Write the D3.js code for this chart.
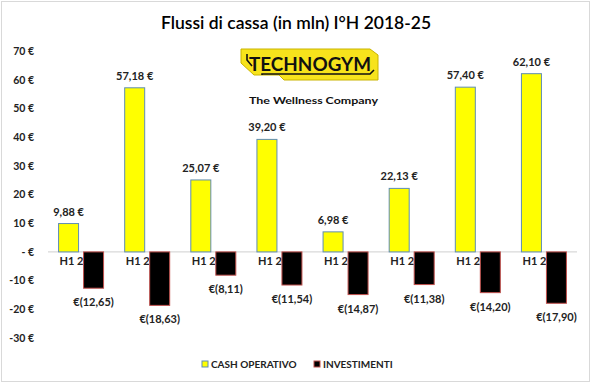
<!DOCTYPE html>
<html><head><meta charset="utf-8">
<script src="https://cdn.jsdelivr.net/npm/d3@7"></script>
<style>
body{margin:0;background:#fff}
svg{display:block}
text{font-family:Lato,"Liberation Sans",sans-serif}
</style>
</head><body>
<svg id="chart" width="592" height="384"></svg>
<script>
const categories = ["H1 2018","H1 2019","H1 2020","H1 2021","H1 2022","H1 2023","H1 2024","H1 2025"];
const cashOperativo = [9.88, 57.18, 25.07, 39.20, 6.98, 22.13, 57.40, 62.10];
const investimenti = [-12.65, -18.63, -8.11, -11.54, -14.87, -11.38, -14.20, -17.90];
const seriesNames = ["CASH OPERATIVO", "INVESTIMENTI"];
const yTicks = [70, 60, 50, 40, 30, 20, 10, 0, -10, -20, -30];
const titleText = "Flussi di cassa (in mln) I°H 2018-25";

const colors = {fill: ["#ffff00", "#000000"], stroke: ["#5f8db4", "#c0504d"]};
const svg = d3.select("#chart");

// border
svg.append("rect").attr("x", 1.5).attr("y", 1.5).attr("width", 588).attr("height", 380)
  .attr("fill", "#fff").attr("stroke", "#d9d9d9").attr("stroke-width", 1);

// title
svg.append("text").attr("x", 296).attr("y", 29).attr("text-anchor", "middle")
  .attr("font-size", 17.5).attr("font-weight", 600).attr("fill", "#000").text(titleText);

// logo
const logo = svg.append("g");
logo.append("path")
  .attr("d", "M241,49 L370,49 L378,55 L378,80 L284,80 L279,75 L254,75 L241,63 Z")
  .attr("fill", "#f7e31c").attr("stroke", "#c9b400").attr("stroke-width", 1);
logo.append("path")
  .attr("d", "M247,54 L247,60 L252,66 M262,75 L262,74 L370,74 L374,70")
  .attr("fill", "none").attr("stroke", "#111").attr("stroke-width", 1.6);
logo.append("text").attr("x", 249).attr("y", 71)
  .attr("font-size", 19).attr("font-weight", 700).attr("font-family", "'DejaVu Sans',sans-serif")
  .attr("textLength", 122).attr("lengthAdjust", "spacingAndGlyphs")
  .attr("fill", "#111").text("TECHNOGYM");
logo.append("text").attr("x", 249).attr("y", 104)
  .attr("font-size", 10).attr("font-weight", 700).attr("font-family", "'DejaVu Sans',sans-serif")
  .attr("textLength", 129).attr("lengthAdjust", "spacingAndGlyphs")
  .attr("fill", "#111").text("The Wellness Company");

// scales
const x = d3.scaleBand().domain(categories).range([48, 577]).padding(0);
const sub = d3.scaleBand().domain([0, 1])
  .range([x.bandwidth() / 2 - 23, x.bandwidth() / 2 + 23]).paddingInner(0.16).paddingOuter(0);
const y = d3.scaleLinear().domain([-30, 70]).range([338, 51]);

// y axis labels
const yAxis = d3.axisLeft(y).tickValues(yTicks).tickSize(0).tickPadding(0)
  .tickFormat(v => v === 0 ? "- €" : v + " €");
const gy = svg.append("g").attr("transform", "translate(34,0)").call(yAxis);
gy.select(".domain").remove();
gy.selectAll("text").attr("font-size", 10.5).attr("font-weight", 700)
  .attr("fill", "#222").attr("font-family", "Lato,sans-serif");

// zero line
svg.append("line").attr("x1", 48).attr("x2", 577).attr("y1", y(0)).attr("y2", y(0))
  .attr("stroke", "#d9d9d9").attr("stroke-width", 1.2);

// category labels (drawn under the bars)
const xAxis = d3.axisBottom(x).tickSize(0).tickPadding(0);
const gx = svg.append("g").attr("transform", `translate(0,${y(0) + 5})`).call(xAxis);
gx.select(".domain").remove();
gx.selectAll("text").attr("font-size", 11).attr("font-weight", 700)
  .attr("fill", "#222").attr("font-family", "Lato,sans-serif");

const rows = categories.map((c, i) => ({c, vals: [cashOperativo[i], investimenti[i]]}));

const groups = svg.selectAll("g.grp").data(rows).enter().append("g")
  .attr("class", "grp").attr("transform", d => `translate(${x(d.c)},0)`);

groups.selectAll("rect").data(d => d.vals.map((v, k) => ({v, k}))).enter().append("rect")
  .attr("x", d => sub(d.k) + 0.5)
  .attr("y", d => Math.min(y(d.v), y(0)))
  .attr("width", sub.bandwidth() - 1)
  .attr("height", d => Math.abs(y(d.v) - y(0)))
  .attr("fill", d => colors.fill[d.k])
  .attr("stroke", d => colors.stroke[d.k]).attr("stroke-width", 1);

const fmt = v => Math.abs(v).toFixed(2).replace(".", ",");
groups.selectAll("text.val").data(d => d.vals.map((v, k) => ({v, k}))).enter().append("text")
  .attr("class", "val")
  .attr("x", d => sub(d.k) + sub.bandwidth() / 2)
  .attr("y", d => d.v >= 0 ? y(d.v) - 8 : y(d.v) + 18)
  .attr("text-anchor", "middle").attr("font-size", 11).attr("font-weight", 700).attr("fill", "#222")
  .text(d => d.v >= 0 ? fmt(d.v) + " €" : "€(" + fmt(d.v) + ")");

// legend
const legX = [202, 314];
const leg = svg.selectAll("g.leg").data(seriesNames).enter().append("g")
  .attr("class", "leg").attr("transform", (d, i) => `translate(${legX[i]},360)`);
leg.append("rect").attr("x", 0).attr("y", 1).attr("width", 6).attr("height", 6)
  .attr("fill", (d, i) => colors.fill[i]).attr("stroke", (d, i) => colors.stroke[i]);
leg.append("text").attr("x", 9).attr("y", 8).attr("font-size", 10).attr("font-weight", 700)
  .attr("fill", "#222").text(d => d);
</script>
</body></html>
